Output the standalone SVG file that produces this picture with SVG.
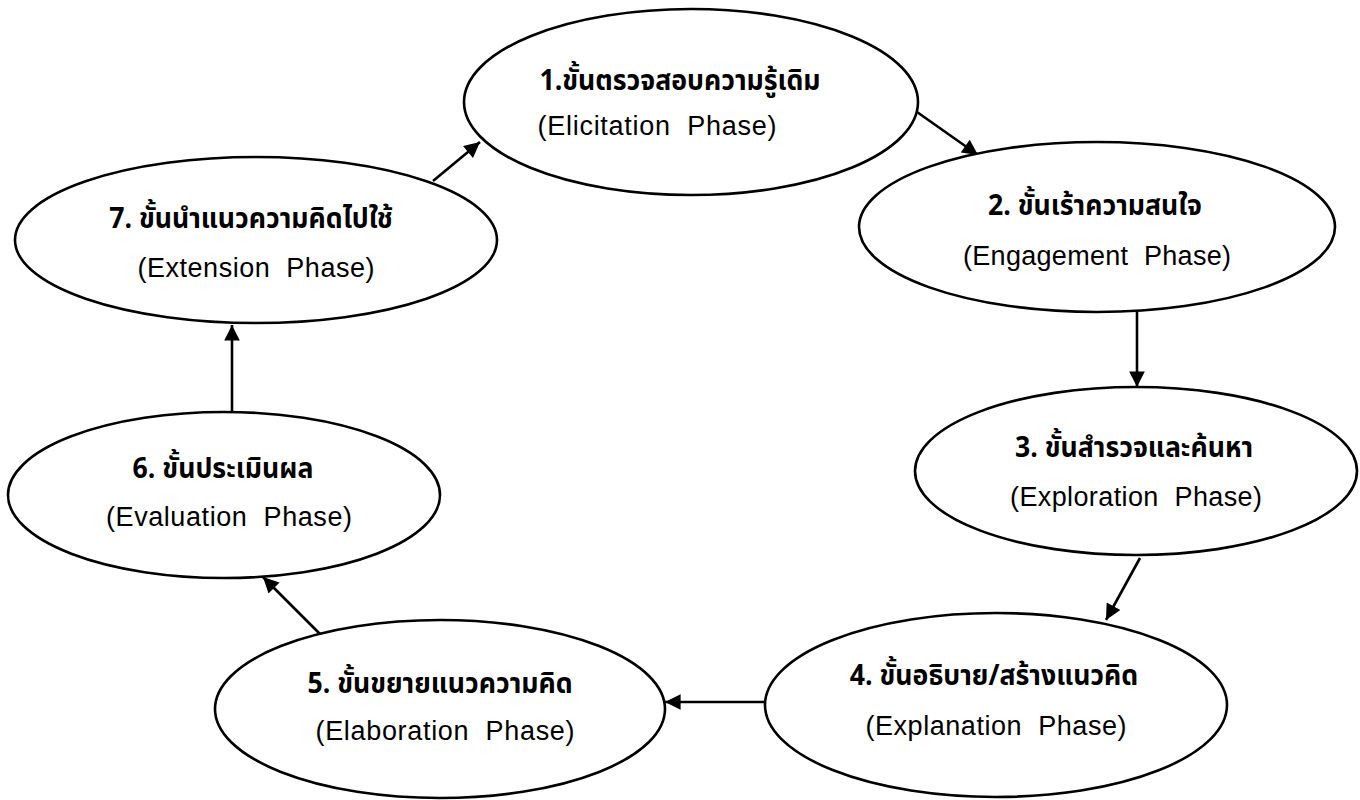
<svg xmlns="http://www.w3.org/2000/svg" width="1360" height="800" viewBox="0 0 1360 800">
<style>
.node ellipse{fill:#fff;stroke:#000;stroke-width:2.6}
.th{font-family:"Noto Sans Thai","Noto Sans","DejaVu Sans",sans-serif;font-weight:bold;font-size:29px;fill:#000;text-anchor:middle}
.en{font-family:"Liberation Sans","Noto Sans",sans-serif;font-size:27px;fill:#000;text-anchor:middle;white-space:pre}
.conn line{stroke:#000;stroke-width:2.6;marker-end:url(#ah)}
</style>
<defs>
<marker id="ah" viewBox="0 0 10 10" refX="10" refY="5" markerWidth="7" markerHeight="6" orient="auto" markerUnits="strokeWidth">
<path d="M0,0 L10,5 L0,10 z" fill="#000"/>
</marker>
</defs>
<rect width="1360" height="800" fill="#fff"/>
<g id="connectors" class="conn">
<line x1="433" y1="181" x2="480" y2="142"/>
<line x1="917" y1="112" x2="978" y2="155"/>
<line x1="1137" y1="312" x2="1137" y2="387"/>
<line x1="1140" y1="558" x2="1106" y2="620"/>
<line x1="765" y1="702" x2="665" y2="702"/>
<line x1="320" y1="634" x2="263" y2="577"/>
<line x1="232" y1="412" x2="232" y2="325"/>
</g>
<g id="n1" class="node">
<ellipse cx="691" cy="102" rx="227" ry="93"/>
<text class="th" transform="translate(680,90) scale(0.92,1)">1.ขั้นตรวจสอบความรู้เดิม</text>
<text class="en" x="657" y="135" textLength="239" lengthAdjust="spacing" xml:space="preserve">(Elicitation  Phase)</text>
</g>
<g id="n2" class="node">
<ellipse cx="1097" cy="227" rx="238" ry="85"/>
<text class="th" transform="translate(1095,215) scale(0.92,1)">2. ขั้นเร้าความสนใจ</text>
<text class="en" x="1097" y="265" textLength="268" lengthAdjust="spacing" xml:space="preserve">(Engagement  Phase)</text>
</g>
<g id="n3" class="node">
<ellipse cx="1136" cy="471" rx="221" ry="84"/>
<text class="th" transform="translate(1134,457) scale(0.92,1)">3. ขั้นสำรวจและค้นหา</text>
<text class="en" x="1136" y="506" textLength="252" lengthAdjust="spacing" xml:space="preserve">(Exploration  Phase)</text>
</g>
<g id="n4" class="node">
<ellipse cx="996" cy="705" rx="231" ry="92"/>
<text class="th" transform="translate(994,685) scale(0.92,1)">4. ขั้นอธิบาย/สร้างแนวคิด</text>
<text class="en" x="996" y="735" textLength="261" lengthAdjust="spacing" xml:space="preserve">(Explanation  Phase)</text>
</g>
<g id="n5" class="node">
<ellipse cx="440" cy="709" rx="225" ry="89"/>
<text class="th" transform="translate(440,693) scale(0.92,1)">5. ขั้นขยายแนวความคิด</text>
<text class="en" x="445" y="740" textLength="259" lengthAdjust="spacing" xml:space="preserve">(Elaboration  Phase)</text>
</g>
<g id="n6" class="node">
<ellipse cx="224" cy="495" rx="216" ry="83"/>
<text class="th" transform="translate(223,478) scale(0.92,1)">6. ขั้นประเมินผล</text>
<text class="en" x="229" y="526" textLength="246" lengthAdjust="spacing" xml:space="preserve">(Evaluation  Phase)</text>
</g>
<g id="n7" class="node">
<ellipse cx="256" cy="240" rx="241" ry="83"/>
<text class="th" transform="translate(251,228) scale(0.92,1)">7. ขั้นนำแนวความคิดไปใช้</text>
<text class="en" x="256" y="277" textLength="237" lengthAdjust="spacing" xml:space="preserve">(Extension  Phase)</text>
</g>
</svg>
